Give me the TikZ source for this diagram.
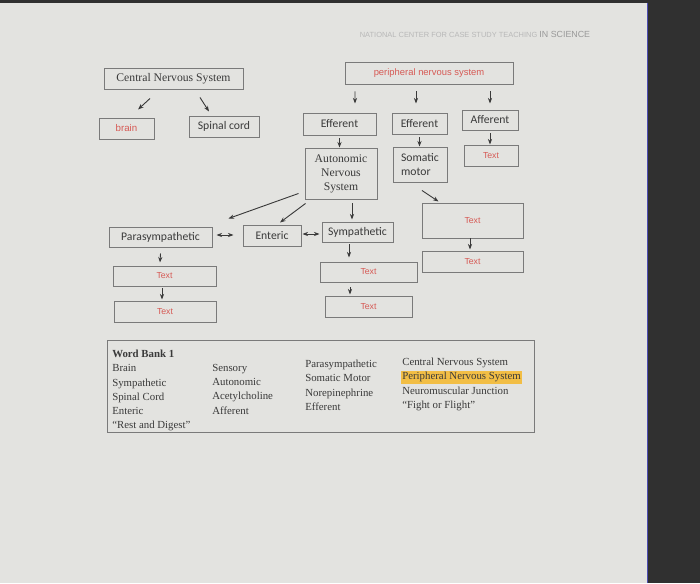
\documentclass[tikz,border=0pt]{standalone}
\usepackage{fontspec}
\setmainfont{Liberation Serif}
\newfontfamily\calib{Carlito}
\newfontfamily\arialf{Liberation Sans}
\usetikzlibrary{arrows.meta,calc}

\definecolor{paper}{HTML}{E3E3E0}
\definecolor{screen}{HTML}{303030}
\definecolor{rulegray}{HTML}{7A7A7A}
\definecolor{ink}{HTML}{3A3A3A}
\definecolor{redtxt}{HTML}{D65A55}
\definecolor{hilite}{HTML}{F2BE45}
\definecolor{wmgray}{HTML}{B8B8B8}

\begin{document}
\begin{tikzpicture}[
x=0.025cm, y=-0.025cm,
bx/.style 2 args={draw=rulegray, line width=0.7pt, inner sep=1pt, minimum width=#1*0.025cm, minimum height=#2*0.025cm, text=ink},
sans/.style={font=\calib\fontsize{8.3}{10}\selectfont},
serif/.style={font=\fontsize{8.3}{10}\selectfont, align=center},
redt/.style={font=\arialf\fontsize{6.2}{7}\selectfont, text=redtxt},
wb/.style={font=\fontsize{7.7}{10.1}\selectfont, align=left, inner sep=0, text=ink, anchor=north west},
>={Stealth[length=4pt,width=3pt]},
arr/.style={->, line width=0.65pt, draw=ink}
]
% screen and page
\fill[paper] (0,0) rectangle (700,583);
\fill[screen] (648,0) rectangle (700,583);
\fill[screen] (0,0) rectangle (648,3);
\draw[color=gray!60!blue, line width=0.6pt] (647.5,3) -- (647.5,583);
\useasboundingbox (0,0) rectangle (700,583);

\node[font=\arialf\fontsize{5.3}{6}\selectfont, text=wmgray] (wm) at (475,34) {NATIONAL CENTER FOR CASE STUDY TEACHING \textcolor{gray!80}{\fontsize{6.3}{7}\selectfont IN SCIENCE}};

% central side
\node[bx={139}{21}, serif] (cns) at (173.5,78.5) {Central Nervous System};
\node[bx={55}{21}, redt, font=\arialf\fontsize{6.9}{8}\selectfont] (brain) at (126.5,128.5) {brain};
\node[bx={70}{21}, sans] (spinal) at (224,126.5) {Spinal cord};

% peripheral side
\node[bx={168}{22}, redt, font=\arialf\fontsize{6.7}{8}\selectfont] (pns) at (429,73) {peripheral nervous system};
\node[bx={73}{22}, sans] (eff1) at (339.5,124) {Efferent};
\node[bx={55}{21}, sans] (eff2) at (419.5,123.5) {Efferent};
\node[bx={56}{20}, sans] (aff) at (490,120) {Afferent};
\node[bx={72}{51}, serif] (ans) at (341,173.5) {Autonomic\\Nervous\\System};
\node[bx={54}{35}, sans, align=left] (som) at (420,164.5) {Somatic\\motor};
\node[bx={54}{21}, redt] (afftext) at (491,155.5) {Text};
\node[bx={101}{35}, redt] (somtext) at (472.5,220.5) {Text};
\node[bx={101}{21}, redt] (somtext2) at (472.5,261.5) {Text};

% autonomic branches
\node[bx={71}{20}, sans] (symp) at (357.5,232) {Sympathetic};
\node[bx={97}{20}, redt] (symtext) at (368.5,272) {Text};
\node[bx={87}{21}, redt] (symtext2) at (368.5,306.5) {Text};
\node[bx={58}{21}, sans] (ent) at (272,235.5) {Enteric};
\node[bx={103}{20}, sans] (para) at (160.5,237) {Parasympathetic};
\node[bx={103}{20}, redt] (partext) at (164.5,276) {Text};
\node[bx={102}{21}, redt] (partext2) at (165,311.5) {Text};

% arrows
\draw[arr] ($(cns.south)+(-23.5,9)$) -- ($(brain.north)+(11.5,-8)$);
\draw[arr] ($(cns.south)+(26.5,8)$) -- ($(spinal.north)+(-15,-4)$);
\draw[arr] ($(pns.south)+(-74,7)$) -- ($(eff1.north)+(15.5,-9)$);
\draw[arr] ($(pns.south)+(-13,7)$) -- ($(eff2.north)+(-3.5,-9)$);
\draw[arr] ($(pns.south)+(61,7)$) -- ($(aff.north)+(0,-6)$);
\draw[arr, shorten <=2pt] (eff1.south) -- (eff1.south |- ans.north);
\draw[arr, shorten <=2pt] (eff2.south) -- (eff2.south |- som.north);
\draw[arr, shorten <=2pt] (aff.south) -- (aff.south |- afftext.north);
\draw[arr] ($(som.south)+(2,8)$) -- ($(somtext.north west)+(17,-1)$);
\draw[arr] ($(somtext.south)+(-2.5,0)$) -- ($(somtext2.north)+(-2.5,-1)$);
\draw[arr] ($(ans.south west)+(-6,-6)$) -- ($(para.north east)+(16,-8)$);
\draw[arr] ($(ans.south west)+(1,4)$) -- ($(ent.north)+(8,-2)$);
\draw[arr] ($(ans.south)+(11,4)$) -- ($(symp.north)+(-5.5,-2)$);
\draw[arr] ($(symp.south)+(-8.5,2)$) -- ($(symtext.north)+(-19.5,-4)$);
\draw[arr] ($(symtext.south)+(-18.5,5)$) -- ($(symtext2.north)+(-18.5,-1)$);
\draw[arr, <->] ($(para.east)+(4,-2)$) -- ($(ent.west)+(-9,-0.5)$);
\draw[arr, <->] ($(ent.east)+(1,-1.5)$) -- ($(symp.west)+(-2,2)$);
\draw[arr] ($(para.south)+(0,6)$) -- ($(partext.north)+(-4.5,-3)$);
\draw[arr] ($(partext.south)+(-2.5,2)$) -- ($(partext2.north)+(-3,-1)$);

% word bank
\node[draw=rulegray, line width=0.7pt, minimum width=427*0.025cm, minimum height=92*0.025cm] (bank) at (320.5,386) {};
\node[wb] (wbA) at (112,350) {\textbf{Word Bank 1}\\Brain\\Sympathetic\\Spinal Cord\\Enteric\\``Rest and Digest''};
\node[wb] (wbB) at (212,364) {Sensory\\Autonomic\\Acetylcholine\\Afferent};
\node[wb] (wbC) at (305,360) {Parasympathetic\\Somatic Motor\\Norepinephrine\\Efferent};
\node[wb] (wbD) at (402,358) {Central Nervous System\\\setlength{\fboxsep}{1pt}\hspace*{-1pt}\colorbox{hilite}{Peripheral Nervous System}\\Neuromuscular Junction\\``Fight or Flight''};
\end{tikzpicture}
\end{document}
